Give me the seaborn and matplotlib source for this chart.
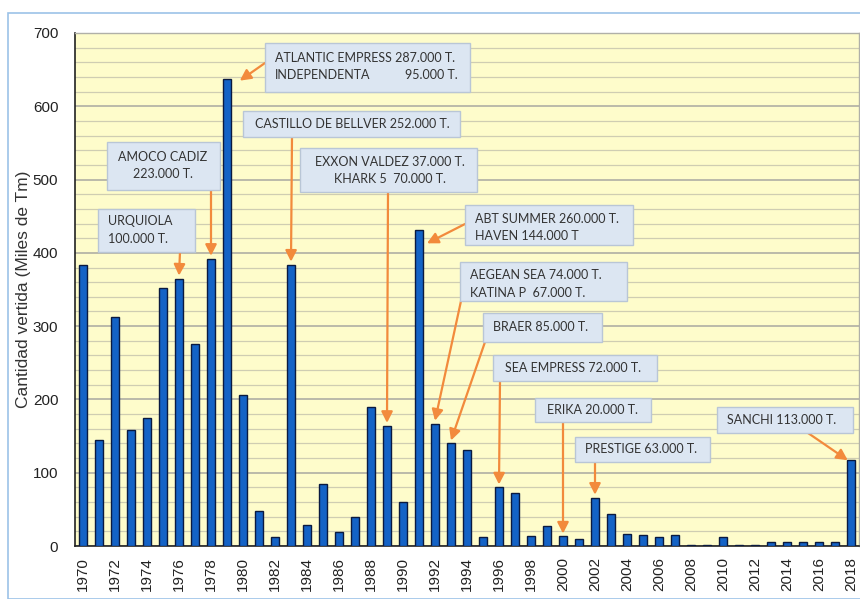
import numpy as np
import pandas as pd
import seaborn as sns
import matplotlib.pyplot as plt
from matplotlib.patches import Rectangle

years = list(range(1970, 2019))
vertido = [383, 144, 313, 158, 174, 352, 365, 275, 392, 637,
           206, 48, 12, 384, 29, 84, 19, 39, 190, 164,
           60, 431, 166, 140, 131, 12, 80, 72, 13, 27,
           13, 9, 66, 43, 16, 15, 12, 15, 2, 2,
           12, 2, 1, 6, 5, 6, 6, 6, 117]

# box text, year pointed at
notas = [
    (["ATLANTIC EMPRESS 287.000 T.", "INDEPENDENTA"], 1979),
    (["CASTILLO DE BELLVER 252.000 T."], 1983),
    (["EXXON VALDEZ 37.000 T.", "KHARK 5  70.000 T."], 1989),
    (["AMOCO CADIZ", "223.000 T."], 1978),
    (["URQUIOLA", "100.000 T."], 1976),
    (["ABT SUMMER 260.000 T.", "HAVEN 144.000 T"], 1991),
    (["AEGEAN SEA 74.000 T.", "KATINA P  67.000 T."], 1992),
    (["BRAER 85.000 T."], 1993),
    (["SEA EMPRESS 72.000 T."], 1996),
    (["ERIKA 20.000 T."], 2000),
    (["PRESTIGE 63.000 T."], 2002),
    (["SANCHI 113.000 T."], 2018),
]

# layout in image pixels: box (x0, y0, x1, y1), text x, align, line ys, arrow start, tip offset (dx, dy data)
cajas = [
    ((265, 43, 470, 92), 275, 'left', [58, 75], (265, 63), (0.8, -2)),
    ((243, 111, 460, 137), 255, 'left', [124], (292, 137), (0, 4)),
    ((300, 148, 477, 192), 390, 'center', [162, 179], (388, 192), (0, 4)),
    ((107, 142, 220, 190), 163, 'center', [157, 174], (211, 190), (0, 4)),
    ((98, 209, 195, 252), 108, 'left', [221, 239], (180, 252), (0, 4)),
    ((465, 205, 633, 245), 475, 'left', [219, 236], (465, 224), (0.5, -18)),
    ((460, 262, 627, 301), 470, 'left', [275, 293], (461, 301), (0, 5)),
    ((483, 313, 602, 342), 493, 'left', [327], (485, 342), (0, 4)),
    ((493, 355, 657, 381), 505, 'left', [368], (500, 381), (0, 4)),
    ((535, 398, 651, 422), 547, 'left', [410], (563, 422), (0, 4)),
    ((575, 437, 710, 462), 585, 'left', [449], (595, 462), (0, 4)),
    ((717, 407, 853, 433), 727, 'left', [420], (808, 433), (-0.2, 0)),
]

df = pd.DataFrame({'year': [str(y) for y in years], 'vertido': vertido})

sns.set_theme(style='white')
plt.rcParams['font.family'] = ['Liberation Sans', 'DejaVu Sans']

W, H = 860, 599
fig = plt.figure(figsize=(8.6, 5.99), dpi=100)
ax = fig.add_axes([75 / W, 53 / H, 784 / W, 513 / H])
ax.set_facecolor('#fefccb')

def fx(px):
    return px / W

def fy(py):
    return 1 - py / H

sns.barplot(data=df, x='year', y='vertido', color='#1463c6', width=0.45,
            edgecolor='#0a1a40', linewidth=1.0, saturation=1, ax=ax, zorder=3)

ax.set_xlim(-0.5, 48.5)
ax.set_ylim(0, 700)
ax.set_yticks(range(0, 701, 100))
ax.set_yticks(range(0, 701, 20), minor=True)
ax.grid(which='minor', axis='y', color='#cfcdb2', lw=0.9)
ax.grid(which='major', axis='y', color='#a8a8a0', lw=1.1)
ax.set_axisbelow(True)

ax.set_xticks(range(0, 49, 2))
ax.set_xticklabels([str(y) for y in years[::2]], rotation=90)
ax.set_xticks(np.arange(-0.5, 49, 1), minor=True)
ax.tick_params(axis='x', which='major', length=0, pad=8, labelsize=11, colors='#222222')
ax.tick_params(axis='x', which='minor', length=5, width=1, direction='out', color='#333333')
ax.tick_params(axis='y', which='major', length=5, width=1, direction='out', pad=7,
               labelsize=11, colors='#222222')
ax.tick_params(axis='y', which='minor', length=0)

ax.set_xlabel('')
ax.set_ylabel('Cantidad vertida (Miles de Tm)', fontsize=12.5, color='#333333')
ax.yaxis.set_label_coords(-0.056, 0.5)

for side in ['left', 'bottom']:
    ax.spines[side].set_color('#222222')
    ax.spines[side].set_linewidth(1.2)
for side in ['top', 'right']:
    ax.spines[side].set_color('#b0b0a8')
    ax.spines[side].set_linewidth(1.0)

# outer frame
fig.add_artist(Rectangle((fx(8), fy(599)), fx(860), fy(13) - fy(599), transform=fig.transFigure,
                         fill=False, edgecolor='#9cc2e8', lw=1.2))

txt_kw = dict(family=['Lato', 'DejaVu Sans'], fontsize=9.0, color='#333333', va='center',
              transform=fig.transFigure, zorder=7)

for (lineas, anio), (caja, tx, ha, ys, inicio, off) in zip(notas, cajas):
    x0, y0, x1, y1 = caja
    fig.add_artist(Rectangle((fx(x0), fy(y1)), fx(x1) - fx(x0), fy(y0) - fy(y1),
                             transform=fig.transFigure, facecolor='#dce6f2',
                             edgecolor='#b9c6d6', lw=1.0, zorder=6))
    for linea, ty in zip(lineas, ys):
        fig.text(fx(tx), fy(ty), linea, ha=ha, **txt_kw)
    i = years.index(anio)
    ax.annotate('', xy=(i + off[0], vertido[i] + off[1]), xycoords='data',
                xytext=(fx(inicio[0]), fy(inicio[1])), textcoords='figure fraction',
                arrowprops=dict(arrowstyle='-|>,head_length=0.55,head_width=0.28',
                                color='#f28a3c', lw=1.6, shrinkA=0, shrinkB=0),
                annotation_clip=False, zorder=5)

# right-aligned tonnage on second line of the first box
fig.text(fx(458), fy(75), '95.000 T.', ha='right', **txt_kw)

fig.savefig('out.png', dpi=100)
